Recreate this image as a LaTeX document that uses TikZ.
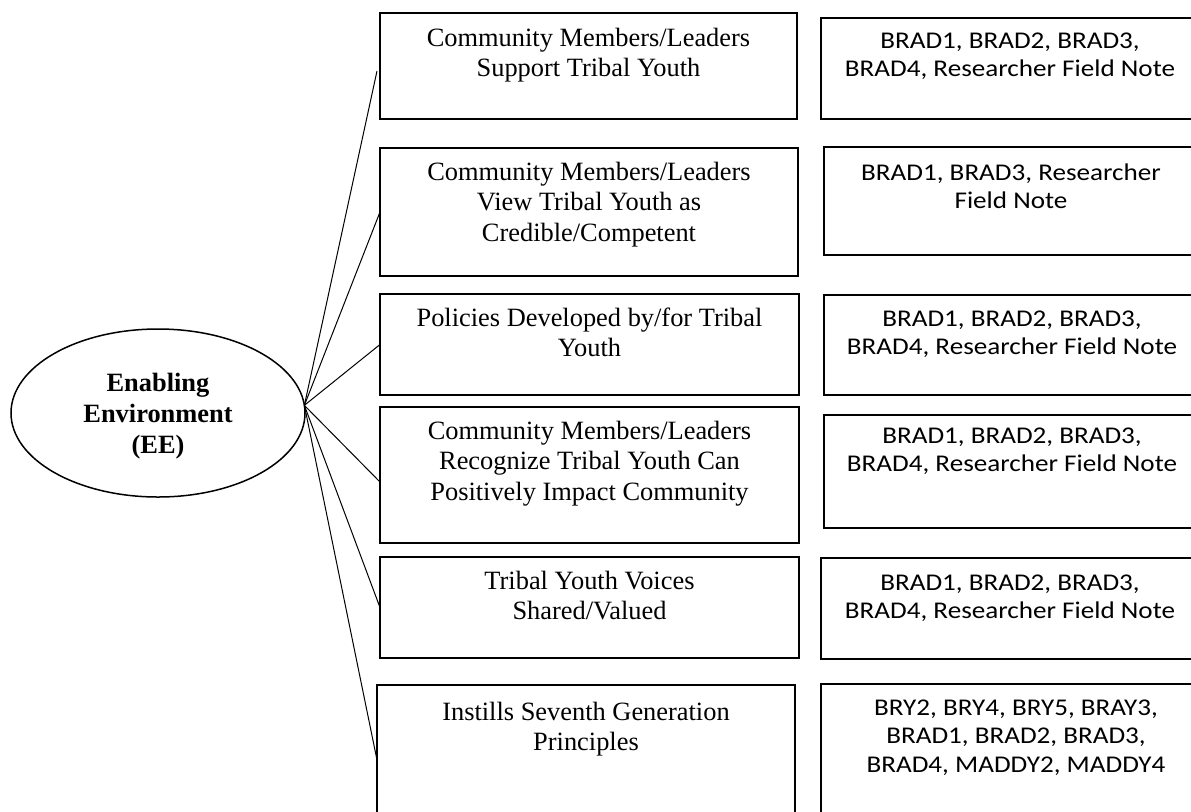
\documentclass[tikz,border=0pt]{standalone}
\usepackage{fontspec}
\setmainfont{Liberation Serif}
\newfontfamily\calfont[FakeStretch=1.13]{Carlito}
\usetikzlibrary{shapes.geometric,calc}
% fixed height for the first line of every text block, so the north anchor sits a known distance above the first baseline
\newcommand\flh{\rule{0pt}{12pt}}
\begin{document}
\begin{tikzpicture}[x=0.5pt,y=-0.5pt,
  box/.style 2 args={draw, line width=0.75pt, inner sep=0pt, outer sep=0pt,
    anchor=north west, minimum width=#1*0.5pt, minimum height=#2*0.5pt},
  lt/.style={font=\fontsize{13.2}{15.2}\selectfont, align=center, inner sep=0pt, anchor=north},
  rt/.style={font=\calfont\fontsize{12}{14.2}\selectfont, align=center, inner sep=0pt, anchor=north},
  ln/.style={line width=0.5pt},
  hub/.style={draw, ellipse, line width=0.75pt, inner sep=0pt, outer sep=0pt,
    minimum width=294*0.5pt, minimum height=168*0.5pt},
  hubtext/.style={font=\bfseries\fontsize{13.2}{15.4}\selectfont, align=center, inner sep=0pt}]
\useasboundingbox (0,0) rectangle (1191,811);
\fill[white] (0,0) rectangle (1191,811);
\clip (0,0) rectangle (1191,811);

% central concept
\node[hub] (ee) at (158,413) {};
\node[hubtext] (eet) at (158,416) {Enabling\\Environment\\(EE)};

% themes
\node[box={417}{106}] (L1) at (380,13) {};
\node[box={418}{128}] (L2) at (380,148) {};
\node[box={419}{101}] (L3) at (380,294) {};
\node[box={419}{136}] (L4) at (380,407) {};
\node[box={419}{101}] (L5) at (380,557) {};
\node[box={418}{150}] (L6) at (377,685) {};

\node[lt] (L1t) at (588.5,22) {\flh Community Members/Leaders\\Support Tribal Youth};
\node[lt] (L2t) at (589,156) {\flh Community Members/Leaders\\View Tribal Youth as\\Credible/Competent};
\node[lt] (L3t) at (589.5,302) {\flh Policies Developed by/for Tribal\\Youth};
\node[lt] (L4t) at (589.5,415) {\flh Community Members/Leaders\\Recognize Tribal Youth Can\\Positively Impact Community};
\node[lt] (L5t) at (589.5,565) {\flh Tribal Youth Voices\\Shared/Valued};
\node[lt] (L6t) at (586,696) {\flh Instills Seventh Generation\\Principles};

% sources
\node[box={390}{101}] (R1) at (821,18) {};
\node[box={390}{108}] (R2) at (824,147) {};
\node[box={390}{100}] (R3) at (824,295) {};
\node[box={390}{113}] (R4) at (824,415) {};
\node[box={390}{101}] (R5) at (821,558) {};
\node[box={390}{150}] (R6) at (821,684) {};

\node[rt] (R1t) at (1010,24) {\flh BRAD1, BRAD2, BRAD3,\\BRAD4, Researcher Field Note};
\node[rt] (R2t) at (1011,156) {\flh BRAD1, BRAD3, Researcher\\Field Note};
\node[rt] (R3t) at (1012,302) {\flh BRAD1, BRAD2, BRAD3,\\BRAD4, Researcher Field Note};
\node[rt] (R4t) at (1012,419) {\flh BRAD1, BRAD2, BRAD3,\\BRAD4, Researcher Field Note};
\node[rt] (R5t) at (1010,566) {\flh BRAD1, BRAD2, BRAD3,\\BRAD4, Researcher Field Note};
\node[rt] (R6t) at (1016,691) {\flh BRY2, BRY4, BRY5, BRAY3,\\BRAD1, BRAD2, BRAD3,\\BRAD4, MADDY2, MADDY4};

% spokes from the central concept
\coordinate (s1) at ($(L1.west)+(-3,5)$);
\coordinate (s4) at ($(L4.west)+(0,7)$);
\draw[ln] (ee.3) -- (s1);
\draw[ln] (ee.3) -- (L2.west);
\draw[ln] (ee.3) -- (L3.west);
\draw[ln] (ee.3) -- (s4);
\draw[ln] (ee.3) -- (L5.west);
\draw[ln] (ee.3) -- (L6.west);
\end{tikzpicture}
\end{document}
